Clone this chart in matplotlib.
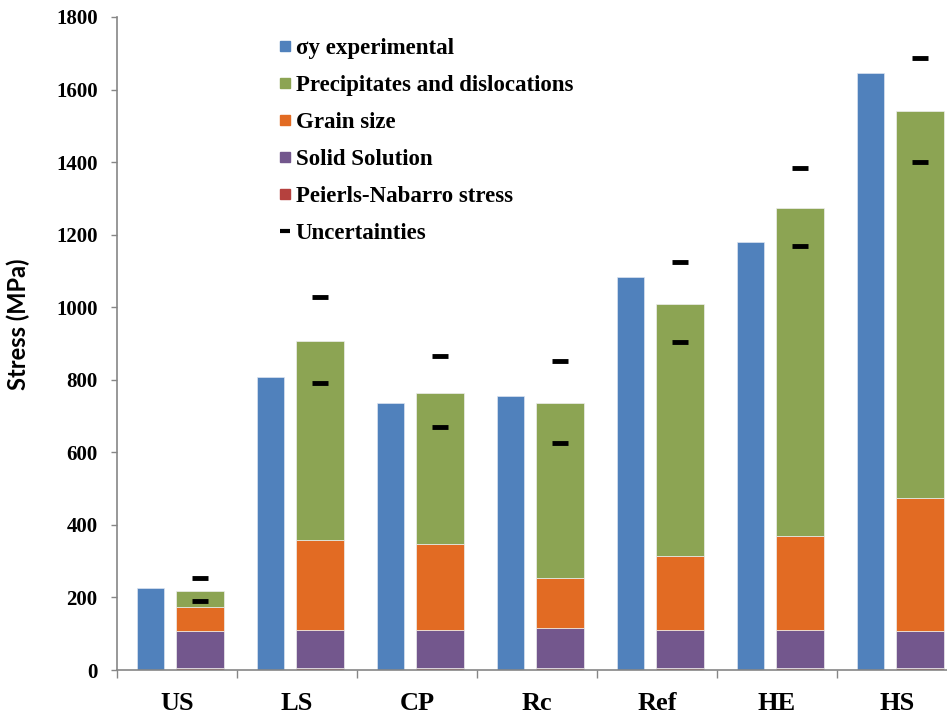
import numpy as np
from matplotlib import pyplot as plt
from matplotlib.lines import Line2D

categories = ['US', 'LS', 'CP', 'Rc', 'Ref', 'HE', 'HS']
sigma_exp = [225, 808, 737, 756, 1082, 1180, 1645]
peierls = [5, 5, 5, 5, 5, 5, 5]
solid_solution = [102, 106, 106, 111, 106, 106, 103]
grain_size = [68, 248, 236, 137, 204, 259, 367]
precipitates = [42, 547, 417, 483, 695, 904, 1065]
unc_high = [253, 1028, 866, 852, 1126, 1385, 1686]
unc_low = [190, 792, 670, 627, 905, 1169, 1401]

c_blue = '#5081bc'
c_green = '#8ca453'
c_orange = '#e26b23'
c_purple = '#73578d'
c_red = '#b5413e'

serif = 'Liberation Serif'

fig = plt.figure(figsize=(9.47, 7.18), dpi=100)
ax = fig.add_axes([117 / 947, 48 / 718, 840 / 947, 653 / 718])

x = np.arange(len(categories))
xs = x + 0.19
w_stack = 0.405

ax.bar(x - 0.22, sigma_exp, width=0.225, color=c_blue, edgecolor='#dbe4f0', linewidth=0.5)

bottom = np.zeros(len(categories))
for vals, col in [(peierls, c_red), (solid_solution, c_purple),
                  (grain_size, c_orange), (precipitates, c_green)]:
    ax.bar(xs, vals, width=w_stack, bottom=bottom, color=col,
           edgecolor='#eeeeee', linewidth=0.5)
    bottom += np.array(vals)

ax.plot(xs, unc_high, linestyle='none', marker='_', markersize=11,
        markeredgewidth=3.5, color='black')
ax.plot(xs, unc_low, linestyle='none', marker='_', markersize=11,
        markeredgewidth=3.5, color='black')

ax.set_xlim(-0.5, 6.5)
ax.set_ylim(0, 1800)
ax.set_yticks(range(0, 1801, 200))
ax.set_xticks(x)
ax.set_xticklabels(categories, fontsize=19, fontweight='bold', family=serif)
ax.set_xticks(np.arange(-0.5, 7, 1), minor=True)
ax.tick_params(axis='x', which='major', length=0, pad=16)
ax.tick_params(axis='x', which='minor', length=6, width=1, color='#868686', direction='out')
ax.tick_params(axis='y', length=4, width=1, color='#868686', pad=10)
for lab in ax.get_yticklabels():
    lab.set_fontsize(15)
    lab.set_fontweight('bold')
    lab.set_family(serif)

for s in ['top', 'right']:
    ax.spines[s].set_visible(False)
for s in ['left', 'bottom']:
    ax.spines[s].set_color('#868686')
    ax.spines[s].set_linewidth(1.2)

ax.set_ylabel('Stress (MPa)', fontsize=17, fontweight='bold', family='Lato')
ax.yaxis.set_label_coords(-0.104, 0.53)

handles = [
    Line2D([], [], linestyle='none', marker='s', markersize=7, color=c_blue),
    Line2D([], [], linestyle='none', marker='s', markersize=7, color=c_green),
    Line2D([], [], linestyle='none', marker='s', markersize=7, color=c_orange),
    Line2D([], [], linestyle='none', marker='s', markersize=7, color=c_purple),
    Line2D([], [], linestyle='none', marker='s', markersize=7, color=c_red),
    Line2D([], [], linestyle='none', marker='_', markersize=7, markeredgewidth=3, color='black'),
]
labels = ['\u03c3y experimental', 'Precipitates and dislocations', 'Grain size',
          'Solid Solution', 'Peierls-Nabarro stress', 'Uncertainties']
fig.legend(handles, labels, loc='upper left', bbox_to_anchor=(259 / 947, 1 - 17 / 718),
           frameon=False, handlelength=0.5, handletextpad=0.2, labelspacing=0.7,
           prop={'family': serif, 'weight': 'bold', 'size': 16.5})

fig.savefig('out.png', dpi=100)
